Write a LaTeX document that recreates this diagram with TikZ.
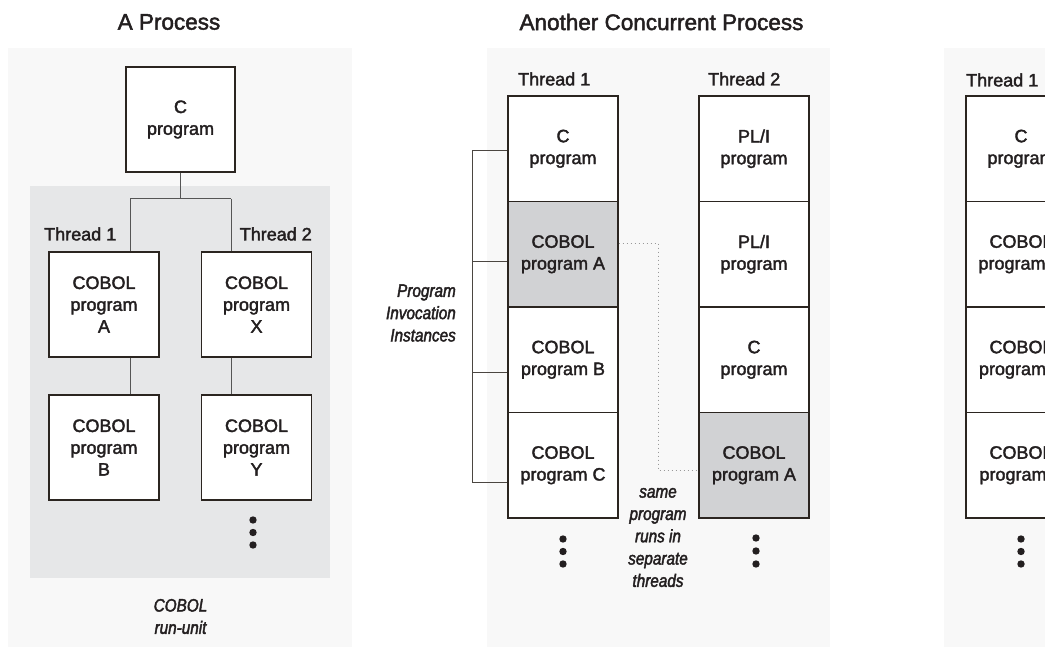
\documentclass[tikz,border=0pt]{standalone}
\usepackage{fontspec}
\setmainfont{Liberation Sans}
\newfontfamily\heavy[FakeBold=2]{Liberation Sans}
\newfontfamily\condit[FakeStretch=0.85,FakeBold=2.2]{Liberation Sans}
\newcommand\bfnt{\heavy\fontsize{18}{21.8}\selectfont}
\newcommand\itfnt{\condit\itshape\fontsize{18}{22.3}\selectfont}
\newcommand\ttlfnt{\heavy\fontsize{22.5}{27}\selectfont}
\definecolor{panelbg}{HTML}{F8F8F8}
\definecolor{runbg}{HTML}{E6E7E8}
\definecolor{hilite}{HTML}{D1D2D4}
\definecolor{boxline}{HTML}{2B2520}
\definecolor{conn}{HTML}{555555}
\definecolor{txt}{HTML}{231F20}
\begin{document}
\begin{tikzpicture}[x=1pt,y=-1pt,
  box/.style={draw=boxline, line width=1.3pt, fill=white, minimum width=110pt,
    minimum height=105pt, inner sep=0pt, align=center, font=\bfnt, text=txt},
  cell/.style={box, minimum height=105.5pt},
  hl/.style={fill=hilite},
  lbl/.style={inner sep=0pt, font=\bfnt, text=txt},
  ttl/.style={inner sep=0pt, font=\ttlfnt, text=txt},
  itl/.style={inner sep=0pt, font=\itfnt, text=txt},
  link/.style={draw=conn, line width=1pt},
  brk/.style={draw=boxline!85, line width=1pt},
  dotline/.style={draw=gray!80, line width=0.9pt, dash pattern=on 1pt off 3pt},
  vdot/.style={fill=txt}]
\clip (0,0) rectangle (1045,647);
\useasboundingbox (0,0) rectangle (1045,647);
\fill[white] (0,0) rectangle (1045,647);
% panels
\fill[panelbg] (8,48) rectangle (352,647);
\fill[panelbg] (487,48) rectangle (830,647);
\fill[panelbg] (944,48) rectangle (1060,647);
\fill[runbg] (30,186) rectangle (330,578);
% titles
\node[ttl] (t1) at (169,22) {A Process};
\node[ttl] (t2) at (661.5,22) {Another Concurrent Process};
% ---- left panel
\node[box, minimum width=109pt] (C) at (180.5,119.5) {C\\program};
\node[box] (A) at (104,304.5) {COBOL\\program\\A};
\node[box] (X) at (256.5,304.5) {COBOL\\program\\X};
\node[box] (B) at (104,447.5) {COBOL\\program\\B};
\node[box] (Y) at (256.5,447.5) {COBOL\\program\\Y};
\node[lbl, anchor=west] (lt1) at (44,234) {Thread 1};
\node[lbl, anchor=east] (lt2) at (312,234) {Thread 2};
\coordinate (ja) at (130,199);
\coordinate (jx) at (231,199);
\draw[link] (C.south) -- (C.south |- ja);
\draw[link] (ja) -- (jx);
\draw[link] (ja) -- (ja |- A.north);
\draw[link] (jx) -- (jx |- X.north);
\draw[link] (ja |- A.south) -- (ja |- B.north);
\draw[link] (jx |- X.south) -- (jx |- Y.north);
\fill[vdot] (253,520) circle (3.7pt) (253,532.5) circle (3.7pt) (253,545) circle (3.7pt);
\node[itl, align=center] (ru) at (180.5,616.5) {COBOL\\run-unit};
% ---- middle panel, thread 1
\node[lbl, anchor=west] (mt1) at (518,79) {Thread 1};
\node[cell] (m1) at (563,148.75) {C\\program};
\node[cell, hl] (m2) at (563,254.25) {COBOL\\program A};
\node[cell] (m3) at (563,359.75) {COBOL\\program B};
\node[cell] (m4) at (563,465.25) {COBOL\\program C};
\fill[vdot] (563,539) circle (3.7pt) (563,551.5) circle (3.7pt) (563,564) circle (3.7pt);
% thread 2
\node[lbl, anchor=west] (mt2) at (708,79) {Thread 2};
\node[cell] (n1) at (754,148.75) {PL/I\\program};
\node[cell] (n2) at (754,254.25) {PL/I\\program};
\node[cell] (n3) at (754,359.75) {C\\program};
\node[cell, hl] (n4) at (754,465.25) {COBOL\\program A};
\fill[vdot] (756,538) circle (3.7pt) (756,551) circle (3.7pt) (756,564) circle (3.7pt);
% bracket
\coordinate (b1) at (472,151);
\coordinate (b2) at (472,262);
\coordinate (b3) at (472,372);
\coordinate (b4) at (472,482);
\draw[brk] (b1 -| m1.west) -- (b1) -- (b4) -- (b4 -| m4.west);
\draw[brk] (b2) -- (b2 -| m2.west);
\draw[brk] (b3) -- (b3 -| m3.west);
\node[itl, align=right, anchor=east] (pii) at (456,313) {Program\\Invocation\\Instances};
% dotted link
\coordinate (d1) at (658,243);
\coordinate (d2) at (658,470);
\draw[dotline] (d1 -| m2.east) -- (d1) -- (d2) -- (d2 -| n4.west);
\node[itl, align=center] (same) at (658,537.5) {same\\program\\runs in\\separate\\threads};
% ---- right panel
\node[lbl, anchor=west] (rt1) at (966,80) {Thread 1};
\node[cell] (r1) at (1021,148.75) {C\\program};
\node[cell] (r2) at (1021,254.25) {COBOL\\program D};
\node[cell] (r3) at (1021,359.75) {COBOL\\program E};
\node[cell] (r4) at (1021,465.25) {COBOL\\program F};
\fill[vdot] (1021,539) circle (3.7pt) (1021,551.5) circle (3.7pt) (1021,564) circle (3.7pt);
\end{tikzpicture}
\end{document}
